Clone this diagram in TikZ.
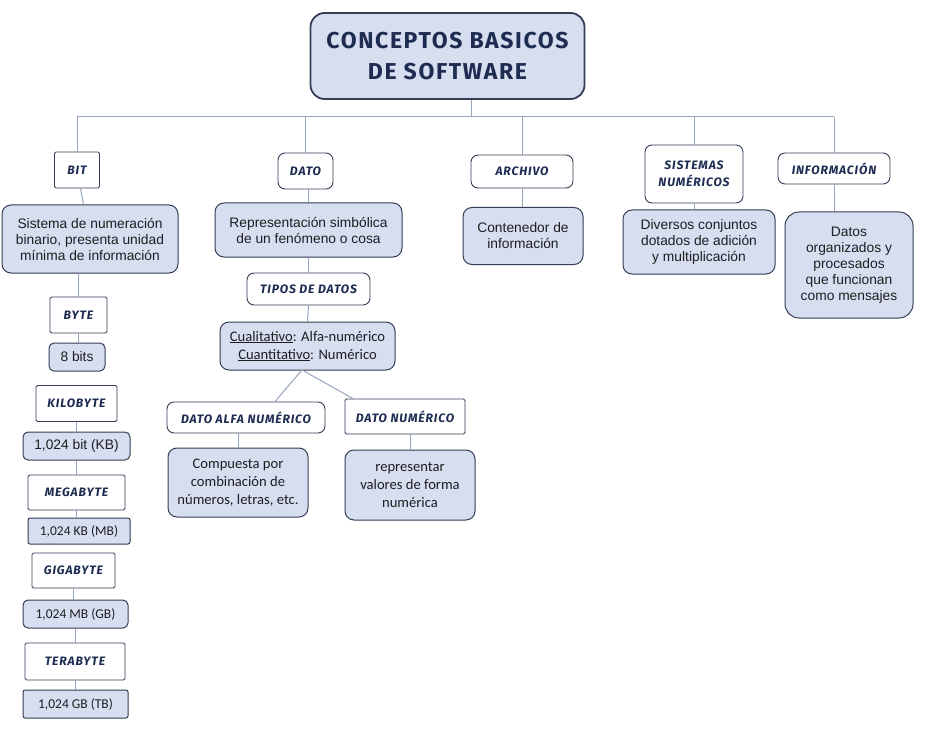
\documentclass[tikz,border=0pt]{standalone}
\usepackage{fontspec}
\setmainfont{Liberation Sans}
\newfontfamily\hdfont[LetterSpace=7]{Fira Sans}
\newfontfamily\calfont{Carlito}
\definecolor{boxfill}{RGB}{214,222,240}
\definecolor{edge}{RGB}{52,62,84}
\definecolor{navy}{RGB}{30,44,82}
\definecolor{ink}{RGB}{30,30,34}
\definecolor{linec}{RGB}{150,165,190}
\begin{document}
\begin{tikzpicture}[x=1pt,y=-1pt,
  hdr/.style={draw=edge, fill=white, line width=0.9pt, rounded corners=7pt, inner sep=0pt, align=center,
    text=navy, font=\hdfont\bfseries\itshape\fontsize{12.2}{17}\selectfont},
  hdrsq/.style={hdr, rounded corners=1.5pt},
  blu/.style={draw=edge, fill=boxfill, line width=1pt, rounded corners=9pt, inner sep=0pt, align=center,
    text=ink, font=\fontsize{13.8}{16}\selectfont},
  blusm/.style={blu, rounded corners=5pt},
  cal/.style={font=\calfont\fontsize{13.5}{17}\selectfont},
  calb/.style={font=\calfont\fontsize{14.6}{18}\selectfont},
  conn/.style={draw=linec, line width=1pt}]
\useasboundingbox (0,0) rectangle (926,730);

% title
\node[blu, line width=1.8pt, rounded corners=14pt, minimum width=274pt, minimum height=86pt,
  text=navy, font=\hdfont\bfseries\fontsize{23}{31}\selectfont] (title) at (447.5,56)
  {CONCEPTOS BASICOS\\DE SOFTWARE};

% bus
\coordinate (hub) at (471,117);
\coordinate (busL) at (77,117);
\coordinate (busR) at (834,117);

% headers level 1
\node[hdrsq, minimum width=45pt, minimum height=36pt] (bit) at (77,170) {BIT};
\node[hdr, minimum width=55pt, minimum height=36pt] (dato) at (305.5,171) {DATO};
\node[hdr, minimum width=102pt, minimum height=33pt] (arch) at (522,171.5) {ARCHIVO};
\node[hdr, minimum width=98pt, minimum height=58pt] (sist) at (694,174) {SISTEMAS\\NUMÉRICOS};
\node[hdr, minimum width=112pt, minimum height=31pt] (info) at (834,168.5) {INFORMACIÓN};

\draw[conn] (title.south -| hub) -- (hub);
\draw[conn] (busL) -- (busR);
\draw[conn] (bit.north |- busL) -- (bit.north);
\draw[conn] (dato.north |- busL) -- (dato.north);
\draw[conn] (arch.north |- busL) -- (arch.north);
\draw[conn] (sist.north |- busL) -- (sist.north);
\draw[conn] (info.north |- busL) -- (info.north);

% left column
\node[blu, minimum width=176pt, minimum height=68pt] (sis) at (90,239)
  {Sistema de numeración\\binario, presenta unidad\\mínima de información};
\node[hdrsq, minimum width=57pt, minimum height=36pt] (byte) at (78.5,315) {BYTE};
\node[blusm, minimum width=56pt, minimum height=28pt] (b8) at (77,357) {8 bits};
\node[hdrsq, minimum width=81pt, minimum height=36pt] (kilo) at (76.5,403.5) {KILOBYTE};
\node[blusm, minimum width=107pt, minimum height=28pt] (kb) at (76.5,446) {1,024 bit (KB)};
\node[hdrsq, minimum width=97pt, minimum height=35pt] (mega) at (76.5,492.5) {MEGABYTE};
\node[blusm, cal, rounded corners=2pt, minimum width=102pt, minimum height=26pt] (mb) at (79,531) {1,024 KB (MB)};
\node[hdrsq, minimum width=83pt, minimum height=35pt] (giga) at (73.5,570.5) {GIGABYTE};
\node[blusm, cal, minimum width=105pt, minimum height=28pt] (gb) at (75.5,614) {1,024 MB (GB)};
\node[hdrsq, minimum width=100pt, minimum height=37pt] (tera) at (75,661.5) {TERABYTE};
\node[blusm, cal, rounded corners=2pt, minimum width=105pt, minimum height=28pt] (tb) at (75.5,704) {1,024 GB (TB)};

\draw[conn] (bit) -- (sis);
\draw[conn] (sis.south -| byte.north) -- (byte.north);
\draw[conn] (byte.south) -- (b8.north -| byte.south);
\draw[conn] (kilo.south) -- (kb.north -| kilo.south);
\draw[conn] (kb.south -| mega.north) -- (mega.north);
\draw[conn] (mega.south) -- (mb.north -| mega.south);
\draw[conn] (gb.north -| giga.south) -- (giga.south);
\draw[conn] (gb.south -| tera.north) -- (tera.north);
\draw[conn] (tera.south) -- (tb.north -| tera.south);

% middle column
\node[blu, minimum width=187pt, minimum height=54pt] (rep) at (308.5,230)
  {Representación simbólica\\de un fenómeno o cosa};
\node[hdr, minimum width=123pt, minimum height=32pt] (tipos) at (308.5,289) {TIPOS DE DATOS};
\node[blu, calb, minimum width=175pt, minimum height=48pt] (cuali) at (307.5,346)
  {\underline{Cualitativo}: Alfa-numérico\\\underline{Cuantitativo}: Numérico};
\node[hdr, minimum width=158pt, minimum height=31pt] (alfa) at (246,417.5) {DATO ALFA NUMÉRICO};
\node[hdrsq, minimum width=120pt, minimum height=35pt] (num) at (405,416.5) {DATO NUMÉRICO};
\node[blu, calb, minimum width=140pt, minimum height=69pt] (comp) at (238,482.5)
  {Compuesta por\\combinación de\\números, letras, etc.};
\node[blu, calb, minimum width=130pt, minimum height=70pt] (repr) at (410,485)
  {representar\\valores de forma\\numérica};

\draw[conn] (dato.south -| rep.north) -- (rep.north);
\draw[conn] (rep.south) -- (tipos.north);
\draw[conn] (tipos.south) -- (cuali.north);
\coordinate (split) at (302,370);
\draw[conn] (split) -- (alfa.north -| 275,0);
\draw[conn] (split) -- (num.north -| 353,0);
\draw[conn] (alfa.south -| comp.north) -- (comp.north);
\draw[conn] (num.south -| repr.north) -- (repr.north);

% right columns
\node[blu, minimum width=120pt, minimum height=57pt] (cont) at (523,236)
  {Contenedor de\\información};
\node[blu, minimum width=152pt, minimum height=64pt] (div) at (699,242)
  {Diversos conjuntos\\dotados de adición\\y multiplicación};
\node[blu, rounded corners=14pt, minimum width=128pt, minimum height=106pt] (datos) at (849,265)
  {Datos\\organizados y\\procesados\\que funcionan\\como mensajes};

\draw[conn] (arch.south) -- (cont.north -| arch.south);
\draw[conn] (sist.south) -- (div.north -| sist.south);
\draw[conn] (info.south) -- (datos.north -| info.south);
\end{tikzpicture}
\end{document}
